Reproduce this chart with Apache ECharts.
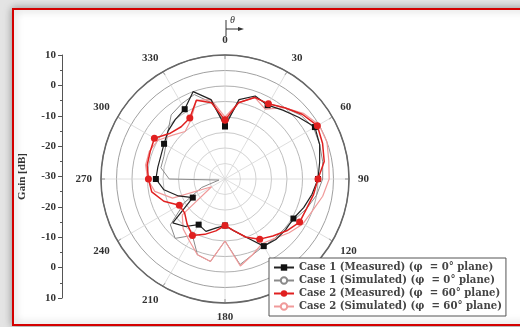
<!DOCTYPE html>
<html>
<head>
<meta charset="utf-8">
<script src="https://cdn.jsdelivr.net/npm/echarts@6/dist/echarts.min.js"></script>
<style>
  html, body { margin: 0; padding: 0; background: #e4e4e4; }
  #chart { width: 520px; height: 327px; }
</style>
</head>
<body>
<div id="chart"></div>
<script>
// angles in degrees, 0 at top, clockwise
const angles = [0, 10, 20, 30, 40, 50, 60, 70, 80, 90, 100, 110, 120, 130, 140, 150, 160, 170, 180,
  190, 200, 210, 220, 230, 240, 250, 260, 270, 280, 290, 300, 310, 320, 330, 340, 350, 360]

// gain in dB
const case1Measured = [-13, -4, -1.5, -2.5, -1, 1, 3.5, 2.5, 1, 0, -1.5, -3, -4.5, -4.5, -4.5, -5, -10, -13, -15,
  -14, -12, -13, -10, -8, -18, -14, -10, -7.7, -8, -8, -7.3, -6, -5, -4, 0, -4, -13]
const case1Simulated = [-12, -5, -2, -2, 0, 2, 3, 2.5, 2, 1.5, 0, -2, -4, -5, -5, -5, -4, -2, -10,
  -3, -4, -9, -5, -7, -15, -22, -28, -12, -9, -9, -8, -6, -3, -2, -1, -5, -12]
const case2Measured = [-11, -5, -2, -2, 0, 2.5, 4.4, 3.5, 2.5, 0, -1, -2, -2.2, -4, -6, -7.6, -10, -13, -15,
  -13, -11, -9, -11, -13, -13, -9, -6, -5.3, -4.5, -4.3, -3.7, -7, -8, -7.3, -3, -5, -11]
const case2Simulated = [-10, -5, -2, -4, 0, 3, 5, 5, 4, 3.6, 2, 0, -1, -3, -5, -6, -4, -1.5, -10,
  -3, -4, -7, -9, -12, -25, -12, -7, -5, -4, -4, -5, -8, -10, -8, -3, -4, -10]

const seriesNames = [
  'Case 1 (Measured) (\u03c6  = 0\u00b0 plane)',
  'Case 1 (Simulated) (\u03c6  = 0\u00b0 plane)',
  'Case 2 (Measured) (\u03c6  = 60\u00b0 plane)',
  'Case 2 (Simulated) (\u03c6  = 60\u00b0 plane)'
]

const serif = 'Liberation Serif'

function toPolar(values) {
  return values.map((v, i) => [v, angles[i]])
}

// markers only every 30 degrees
function markerSize(size) {
  return (val, params) => (params.dataIndex % 3 === 0 ? size : 0)
}

const chart = echarts.init(document.getElementById('chart'), null, { renderer: 'canvas' })

const option = {
  animation: false,
  backgroundColor: 'transparent',
  graphic: [
    {
      type: 'rect',
      z: -10,
      shape: { x: 13, y: 9, width: 520, height: 316 },
      style: { fill: '#fff', stroke: '#d40000', lineWidth: 2, shadowBlur: 8, shadowColor: 'rgba(0,0,0,0.35)' }
    },
    {
      type: 'line',
      shape: { x1: 226, y1: 20, x2: 226, y2: 36 },
      style: { stroke: '#333', lineWidth: 1 }
    },
    {
      type: 'line',
      shape: { x1: 226, y1: 29, x2: 240, y2: 29 },
      style: { stroke: '#333', lineWidth: 1 }
    },
    {
      type: 'polygon',
      shape: { points: [[244, 29], [238, 27], [238, 31]] },
      style: { fill: '#333' }
    },
    {
      type: 'text',
      x: 230,
      y: 15,
      style: { text: '\u03b8', font: 'italic 10px ' + serif, fill: '#333' }
    }
  ],
  polar: {
    center: [225, 179],
    radius: 124
  },
  angleAxis: {
    type: 'value',
    min: 0,
    max: 360,
    interval: 30,
    startAngle: 90,
    clockwise: true,
    axisLine: { lineStyle: { color: '#666', width: 1.5 } },
    axisTick: { show: true, inside: true, length: 4, lineStyle: { color: '#666' } },
    axisLabel: {
      margin: 9,
      color: '#333',
      fontFamily: serif,
      fontWeight: 'bold',
      fontSize: 11,
      formatter: v => (v === 360 ? '' : v)
    },
    splitLine: { show: true, lineStyle: { color: '#d6d6d6', width: 0.8 } }
  },
  radiusAxis: {
    type: 'value',
    min: -30,
    max: 10,
    interval: 5,
    axisLine: { show: false },
    axisTick: { show: false },
    axisLabel: { show: false },
    splitLine: {
      show: true,
      lineStyle: {
        color: ['#e0e0e0', '#dadada', '#d2d2d2', '#cacaca', '#c0c0c0', '#b8b8b8', '#b0b0b0', '#a0a0a0', '#888'],
        width: 1
      }
    }
  },
  grid: { left: 62, top: 55, width: 1, height: 243 },
  xAxis: { type: 'value', show: false },
  yAxis: {
    type: 'value',
    min: -40,
    max: 40,
    interval: 10,
    name: 'Gain [dB]',
    nameLocation: 'middle',
    nameGap: 34,
    nameTextStyle: { fontFamily: serif, fontWeight: 'bold', fontSize: 11, color: '#333' },
    axisLine: { show: true, lineStyle: { color: '#555' } },
    axisTick: { show: true, length: 4, lineStyle: { color: '#555' } },
    minorTick: { show: true, splitNumber: 2, length: 2, lineStyle: { color: '#555' } },
    axisLabel: {
      color: '#333',
      fontFamily: serif,
      fontWeight: 'bold',
      fontSize: 11,
      margin: 6,
      formatter: v => Math.abs(v) - 30
    },
    splitLine: { show: false }
  },
  legend: {
    orient: 'vertical',
    left: 269,
    top: 258,
    padding: [3, 4, 3, 4],
    itemGap: 0,
    itemWidth: 20,
    itemHeight: 8,
    backgroundColor: '#fff',
    borderColor: '#555',
    borderWidth: 1,
    borderRadius: 0,
    textStyle: { fontFamily: 'DejaVu Serif', fontWeight: 'bold', fontSize: 10.1, color: '#444', lineHeight: 13 },
    data: seriesNames
  },
  series: [
    {
      name: seriesNames[1],
      type: 'line',
      coordinateSystem: 'polar',
      data: toPolar(case1Simulated),
      symbol: 'emptyCircle',
      symbolSize: 0,
      lineStyle: { color: '#8a8a8a', width: 1 },
      itemStyle: { color: '#8a8a8a' },
      z: 2
    },
    {
      name: seriesNames[3],
      type: 'line',
      coordinateSystem: 'polar',
      data: toPolar(case2Simulated),
      symbol: 'emptyCircle',
      symbolSize: 0,
      lineStyle: { color: '#f09a9a', width: 1.2 },
      itemStyle: { color: '#f09a9a' },
      z: 2
    },
    {
      name: seriesNames[0],
      type: 'line',
      coordinateSystem: 'polar',
      data: toPolar(case1Measured),
      symbol: 'rect',
      symbolSize: markerSize(6),
      lineStyle: { color: '#222', width: 1.2 },
      itemStyle: { color: '#111' },
      z: 3
    },
    {
      name: seriesNames[2],
      type: 'line',
      coordinateSystem: 'polar',
      data: toPolar(case2Measured),
      symbol: 'circle',
      symbolSize: markerSize(7),
      lineStyle: { color: '#e02020', width: 1.5 },
      itemStyle: { color: '#e02020' },
      z: 4
    }
  ]
}

chart.setOption(option)
</script>
</body>
</html>
